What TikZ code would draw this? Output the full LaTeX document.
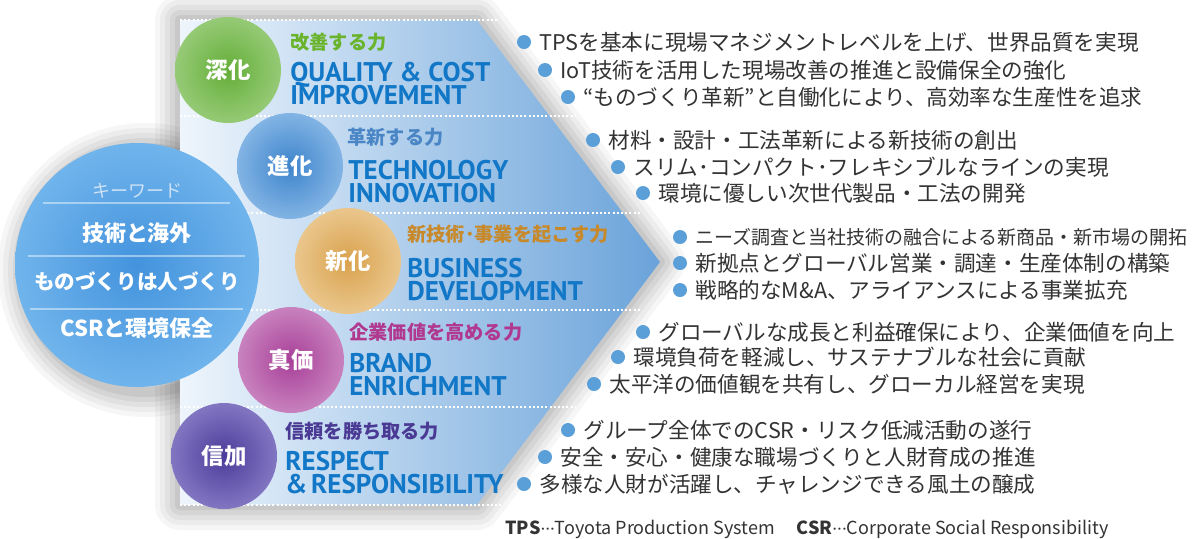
\documentclass[tikz,border=0pt]{standalone}
\usepackage{fontspec}
\setmainfont{Noto Sans CJK JP}
\newfontfamily\engfont{PT Sans}
\newcommand\mytightlines{\lineskiplimit -20pt\relax\lineskip 0pt\relax}
\usetikzlibrary{calc}
\definecolor{engblue}{HTML}{1177C6}
\definecolor{bulletblue}{HTML}{5A9FD8}
\definecolor{bodygrey}{HTML}{333333}
\definecolor{lgreen}{HTML}{6AB42D}
\definecolor{lblue}{HTML}{4A86C5}
\definecolor{lgold}{HTML}{C8892A}
\definecolor{lmag}{HTML}{B0398F}
\definecolor{lpurp}{HTML}{4A3A94}
\definecolor{arrowL}{HTML}{EEF5FC}
\definecolor{arrowR}{HTML}{6AA3DA}
\definecolor{bigIn}{HTML}{4393DD}
\definecolor{bigOut}{HTML}{70B4EC}
\definecolor{kwgrey}{HTML}{CDE2F5}
\definecolor{gIn}{HTML}{64AE38}
\definecolor{gOut}{HTML}{96CA76}
\definecolor{bIn}{HTML}{3E84CC}
\definecolor{bOut}{HTML}{82B4E4}
\definecolor{oIn}{HTML}{D9A24E}
\definecolor{oOut}{HTML}{EAC68C}
\definecolor{mIn}{HTML}{A83F98}
\definecolor{mOut}{HTML}{C882BE}
\definecolor{pIn}{HTML}{4B3C9A}
\definecolor{pOut}{HTML}{8276C2}
\begin{document}
\begin{tikzpicture}[x=0.5pt,y=-0.5pt,
  bdot/.style={circle,fill=bulletblue,inner sep=0pt,minimum size=7pt},
  btxt/.style={anchor=west,inner sep=0pt,text=bodygrey,font=\fontsize{10.8pt}{12pt}\selectfont},
  jlabel/.style={anchor=west,inner sep=0pt,font=\fontsize{9.6pt}{11pt}\selectfont\bfseries},
  elabel/.style={anchor=north west,inner sep=0pt,align=left,text=engblue,
    font=\engfont\fontsize{13.5pt}{11.4pt}\selectfont\bfseries\mytightlines},
  ball/.style={circle,minimum size=53pt,inner sep=0pt,text=white,font=\fontsize{11.2pt}{13pt}\selectfont\bfseries},
  sep/.style={white,line width=1.1pt,dash pattern=on 1pt off 1.1pt},
  kw/.style={text=white,inner sep=0pt,font=\fontsize{11pt}{13pt}\selectfont\bfseries}
]
\useasboundingbox (0,0) rectangle (1200,538);
\fill[white] (0,0) rectangle (1200,538);

% coordinates of the arrow
\coordinate (A) at (180,20);
\coordinate (B) at (477,20);
\coordinate (T) at (660,262);
\coordinate (C) at (477,505);
\coordinate (D) at (180,505);

% soft shadow
\begin{scope}[shift={(8,5)}]
\foreach \w/\o in {50/0.035,40/0.04,30/0.045,20/0.05,10/0.06}{
  \draw[black,opacity=\o,line width=\w*0.5pt,line join=round] (A)--(B)--(T)--(C)--(D)--cycle;
  \draw[black,opacity=\o,line width=\w*0.5pt] (137,265) circle[radius=122];
}
\end{scope}

% arrow body
\shade[left color=arrowL,right color=arrowR] (A)--(B)--(T)--(C)--(D)--cycle;

% separators
\draw[sep] (A) -- ($(B)+(22,0)$);
\draw[sep] (180,116) -- (575,116);
\draw[sep] (180,213) -- (640,213);
\draw[sep] (180,310) -- (640,310);
\draw[sep] (180,407) -- (575,407);
\draw[sep] (D) -- ($(C)+(25,0)$);

% big keyword circle
\node[circle,minimum size=122pt,inner sep=0pt,inner color=bigIn,outer color=bigOut] (big) at (137,265) {};
\node[kw,text=kwgrey,font=\fontsize{9pt}{11pt}\selectfont] (kw0) at (137,191) {キーワード};
\draw[white,opacity=0.45,line width=0.6pt] (43,203) -- (230,203);
\node[kw] (kw1) at (137,233) {技術と海外};
\draw[white,opacity=0.45,line width=0.6pt] (28,256) -- (245,256);
\node[kw,font=\fontsize{10.3pt}{12pt}\selectfont\bfseries] (kw2) at (137,282) {ものづくりは人づくり};
\draw[white,opacity=0.45,line width=0.6pt] (30,309) -- (243,309);
\node[kw] (kw3) at (137,328) {CSRと環境保全};

% balls
\node[ball,inner color=gIn,outer color=gOut] (c1) at (228,70) {深化};
\node[ball,inner color=bIn,outer color=bOut] (c2) at (290,166) {進化};
\node[ball,inner color=oIn,outer color=oOut] (c3) at (348,261) {新化};
\node[ball,inner color=mIn,outer color=mOut] (c4) at (291,360) {真価};
\node[ball,inner color=pIn,outer color=pOut] (c5) at (224,456) {信加};

% labels
\node[jlabel,text=lgreen] (j1) at (290,42) {改善する力};
\node[elabel] (e1) at (290,62) {QUALITY \& COST\\IMPROVEMENT};

\node[jlabel,text=lblue] (j2) at (347,137) {革新する力};
\node[elabel] (e2) at (348,160) {TECHNOLOGY\\INNOVATION};

\node[jlabel,text=lgold] (j3) at (407,234) {新技術･事業を起こす力};
\node[elabel] (e3) at (407,258) {BUSINESS\\DEVELOPMENT};

\node[jlabel,text=lmag] (j4) at (349,332) {企業価値を高める力};
\node[elabel] (e4) at (349,353) {BRAND\\ENRICHMENT};

\node[jlabel,text=lpurp] (j5) at (285,431) {信頼を勝ち取る力};
\node[elabel] (e5) at (285,451) {RESPECT\\\&\hspace{-1.5pt} RESPONSIBILITY};

% bullets
\foreach \n/\x/\y/\t in {
 11/524/42/{TPSを基本に現場マネジメントレベルを上げ、世界品質を実現},
 12/545/70/{IoT技術を活用した現場改善の推進と設備保全の強化},
 13/568/97/{“ものづくり革新”と自働化により、高効率な生産性を追求},
 21/593/140/{材料・設計・工法革新による新技術の創出},
 22/618/167/{スリム･コンパクト･フレキシブルなラインの実現},
 23/643/193/{環境に優しい次世代製品・工法の開発},
 31/680/237/{\fontsize{9.5pt}{12pt}\selectfont ニーズ調査と当社技術の融合による新商品・新市場の開拓},
 32/680/263/{新拠点とグローバル営業・調達・生産体制の構築},
 33/680/290/{戦略的なM\&A、アライアンスによる事業拡充},
 41/643/332/{グローバルな成長と利益確保により、企業価値を向上},
 42/618/357/{環境負荷を軽減し、サステナブルな社会に貢献},
 43/594/384/{太平洋の価値観を共有し、グローカル経営を実現},
 51/568/430/{グループ全体でのCSR・リスク低減活動の遂行},
 52/545/457/{安全・安心・健康な職場づくりと人財育成の推進},
 53/524/484/{多様な人財が活躍し、チャレンジできる風土の醸成}}{
  \node[bdot] (b\n) at (\x,\y) {};
  \node[btxt] (t\n) at (\x+15,\y) {\t};
}

% footer
\node[anchor=west,inner sep=0pt,text=bodygrey,font=\fontsize{9pt}{10pt}\selectfont] (foot) at (505,529)
  {\textbf{TPS}{\engfont···}Toyota Production System\hspace{11pt}\textbf{CSR}{\engfont···}Corporate Social Responsibility};
\end{tikzpicture}
\end{document}
